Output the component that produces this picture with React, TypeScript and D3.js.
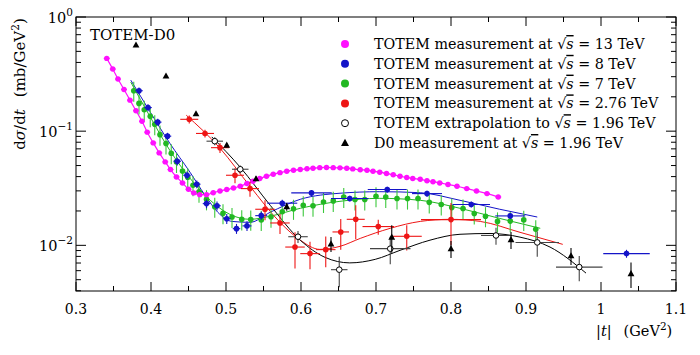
import React from "react";
import * as d3 from "d3";

// ---- data ----
const t13 = [0.341,0.349,0.356,0.364,0.372,0.380,0.388,0.395,0.403,0.411,0.419,0.426,0.434,0.442,0.450,0.457,0.465,0.474,0.483,0.492,0.501,0.510,0.519,0.528,0.536,0.545,0.554,0.563,0.572,0.581,0.590,0.599,0.608,0.616,0.625,0.634,0.643,0.652,0.661,0.669,0.679,0.688,0.696,0.705,0.714,0.723,0.732,0.741,0.749,0.759,0.768,0.776,0.785,0.796,0.808,0.821,0.834,0.848,0.863];
const v13 = [0.434,0.350,0.286,0.232,0.187,0.151,0.122,0.098,0.0789,0.0645,0.0538,0.0461,0.0397,0.0352,0.0310,0.0288,0.0278,0.0278,0.0289,0.0299,0.0308,0.0318,0.0329,0.0348,0.0364,0.0385,0.0403,0.0420,0.0433,0.0446,0.0455,0.0461,0.0469,0.0474,0.0479,0.0481,0.0479,0.0477,0.0474,0.0467,0.0459,0.0455,0.0446,0.0437,0.0426,0.0415,0.0403,0.0393,0.0385,0.0379,0.0368,0.0361,0.0352,0.0341,0.0329,0.0314,0.0299,0.0284,0.0265];

const t8 = [0.384,0.396,0.409,0.422,0.435,0.448,0.461,0.474,0.488,0.501,0.514,0.528,0.547,0.575,0.614,0.665,0.715,0.768,0.827,0.879,1.034];
const v8 = [0.226,0.161,0.120,0.0904,0.0545,0.0411,0.0343,0.0232,0.0222,0.0171,0.0140,0.0148,0.0182,0.0234,0.0288,0.0257,0.0308,0.0284,0.0228,0.0181,0.00846];
const dt8 = [0.005,0.005,0.005,0.005,0.005,0.005,0.005,0.005,0.005,0.005,0.005,0.006,0.008,0.02,0.027,0.025,0.026,0.02,0.025,0.02,0.031];
const er8 = [0.07,0.07,0.07,0.07,0.08,0.08,0.08,0.09,0.09,0.1,0.1,0.1,0.08,0.07,0.06,0.06,0.06,0.06,0.06,0.06,0.08];
const fit8T = [0.373,0.399,0.425,0.452,0.472,0.489,0.508,0.532,0.559,0.599,0.652,0.705,0.759,0.812,0.865,0.915];
const fit8V = [0.280,0.147,0.0785,0.0437,0.0275,0.0195,0.0162,0.0159,0.0195,0.0253,0.0286,0.0295,0.0289,0.0248,0.0207,0.0177];

const t7 = [0.377,0.384,0.391,0.399,0.405,0.412,0.420,0.427,0.434,0.442,0.449,0.456,0.464,0.474,0.485,0.496,0.508,0.521,0.533,0.547,0.560,0.575,0.590,0.603,0.616,0.630,0.643,0.657,0.672,0.685,0.700,0.713,0.728,0.742,0.756,0.771,0.787,0.801,0.816,0.831,0.846,0.862,0.879,0.897,0.913];
const v7 = [0.226,0.175,0.154,0.135,0.115,0.0932,0.0780,0.0641,0.0538,0.0448,0.0395,0.0336,0.0295,0.0253,0.0218,0.0191,0.0177,0.0169,0.0168,0.0167,0.0178,0.0197,0.0209,0.0224,0.0222,0.0240,0.0245,0.0265,0.0252,0.0252,0.0269,0.0265,0.0257,0.0257,0.0257,0.0238,0.0228,0.0214,0.0210,0.0190,0.0180,0.0162,0.0163,0.0167,0.0138];
const fit7T = [0.373,0.399,0.425,0.452,0.479,0.505,0.532,0.559,0.599,0.652,0.705,0.759,0.812,0.865,0.919];
const fit7V = [0.269,0.133,0.0681,0.0387,0.0248,0.0187,0.0169,0.0180,0.0211,0.0243,0.0258,0.0248,0.0211,0.0172,0.0141];

const t276 = [0.451,0.472,0.492,0.512,0.532,0.552,0.572,0.592,0.612,0.633,0.653,0.673,0.703,0.741,0.800];
const v276 = [0.127,0.0955,0.0717,0.0411,0.0314,0.0207,0.0157,0.00966,0.00846,0.00917,0.0131,0.0169,0.0146,0.0120,0.0168];
const dt276 = [0.012,0.012,0.012,0.012,0.012,0.013,0.013,0.013,0.013,0.013,0.011,0.012,0.021,0.02,0.04];
const er276 = [0.08,0.08,0.1,0.15,0.15,0.2,0.2,0.35,0.27,0.3,0.3,0.33,0.15,0.25,0.4];
const fit276T = [0.447,0.492,0.532,0.572,0.599,0.625,0.652,0.679,0.719,0.759,0.799,0.839,0.892,0.949];
const fit276V = [0.138,0.0709,0.0329,0.0159,0.0111,0.00922,0.00980,0.0115,0.0141,0.0162,0.0169,0.0162,0.0130,0.0102];

const t196 = [0.485,0.519,0.596,0.651,0.719,0.860,0.915,0.971];
const v196 = [0.0817,0.0464,0.0119,0.00612,0.00935,0.0122,0.0106,0.00645];
const dt196 = [0.011,0.011,0.013,0.011,0.027,0.02,0.029,0.031];
const er196 = [0.08,0.08,0.12,0.3,0.27,0.17,0.25,0.25];
const fit196T = [0.481,0.519,0.559,0.599,0.632,0.665,0.699,0.732,0.772,0.812,0.852,0.892,0.932,0.980];
const fit196V = [0.0891,0.0483,0.0224,0.0111,0.00785,0.00702,0.00754,0.00904,0.0111,0.0125,0.0127,0.0118,0.00966,0.00571];

const tD0 = [0.380,0.420,0.460,0.501,0.540,0.581,0.640,0.721,0.800,0.880,0.960,1.040];
const vD0 = [0.568,0.304,0.142,0.0754,0.0383,0.0218,0.0103,0.0118,0.00932,0.0112,0.00809,0.00565];
const erD0 = [0.02,0.02,0.03,0.04,0.05,0.08,0.15,0.27,0.17,0.17,0.17,0.25];

const xTicks = [0.3,0.4,0.5,0.6,0.7,0.8,0.9,1.0,1.1];
const xTickLabels = ["0.3","0.4","0.5","0.6","0.7","0.8","0.9","1","1.1"];
const yTicks = [1, 0.1, 0.01];
const yTickExp = ["0", "\u22121", "\u22122"];

const legendItems = [
  { label: "TOTEM measurement at ", energy: " = 13 TeV", color: "#ff10ff", kind: "dot" },
  { label: "TOTEM measurement at ", energy: " = 8 TeV", color: "#1414c8", kind: "dot" },
  { label: "TOTEM measurement at ", energy: " = 7 TeV", color: "#22b822", kind: "dot" },
  { label: "TOTEM measurement at ", energy: " = 2.76 TeV", color: "#ee1515", kind: "dot" },
  { label: "TOTEM extrapolation to ", energy: " = 1.96 TeV", color: "#000", kind: "open" },
  { label: "D0 measurement at ", energy: " = 1.96 TeV", color: "#000", kind: "tri" },
];

const X0 = 76, X1 = 676, Y0 = 17, Y1 = 291;
const FONT = "DejaVu Serif";
const TS: React.CSSProperties = { fontFamily: FONT };

export default function App() {
  const x = d3.scaleLinear().domain([0.3, 1.1]).range([X0, X1]);
  const y = d3.scaleLog().domain([Math.pow(10, -2.4), 1]).range([Y1, Y0]);
  const line = d3.line<[number, number]>().x(d => x(d[0])).y(d => y(d[1])).curve(d3.curveMonotoneX);
  const zip = (a: number[], b: number[]) => a.map((v, i) => [v, b[i]] as [number, number]);

  const minorX: number[] = d3.range(0.35, 1.1, 0.1);
  const minorY: number[] = [];
  [0.001, 0.01, 0.1].forEach(dec => { for (let k = 2; k <= 9; k++) { const v = dec * k; if (v >= Math.pow(10, -2.4) && v < 1) minorY.push(v); } });

  const errBars = (ts: number[], vs: number[], dts: number[] | number, ers: number[] | number, color: string, sw = 1) =>
    ts.map((t, i) => {
      const dt = typeof dts === "number" ? dts : dts[i];
      const er = typeof ers === "number" ? ers : ers[i];
      const v = vs[i];
      return (
        <g key={i} stroke={color} strokeWidth={sw}>
          {dt > 0 && <line x1={x(t - dt)} x2={x(t + dt)} y1={y(v)} y2={y(v)} />}
          {er > 0 && <line x1={x(t)} x2={x(t)} y1={y(v * (1 + er))} y2={y(v * (1 - er))} />}
        </g>
      );
    });
  const dots = (ts: number[], vs: number[], color: string, r = 2.8) =>
    ts.map((t, i) => <circle key={i} cx={x(t)} cy={y(vs[i])} r={r} fill={color} />);
  const tri = (cx: number, cy: number, s = 3.6) => `M${cx},${cy - s}L${cx + s * 0.95},${cy + s * 0.7}L${cx - s * 0.95},${cy + s * 0.7}Z`;

  const sqrtS = (
    <>
      <tspan>{"\u221A"}</tspan>
      <tspan fontStyle="italic" textDecoration="overline">s</tspan>
    </>
  );

  const [c13, c8, c7, c276] = legendItems.map(l => l.color);

  return (
    <svg width={700} height={355} style={{ display: "block", position: "absolute", left: 0, top: 0, background: "#fff", fontFamily: FONT }}>
      <rect width={700} height={355} fill="#fff" />
      {/* frame */}
      <rect x={X0} y={Y0} width={X1 - X0} height={Y1 - Y0} fill="none" stroke="#000" strokeWidth={1} />
      {/* x ticks */}
      {xTicks.map((t, i) => (
        <g key={"xt" + i} stroke="#000">
          <line x1={x(t)} x2={x(t)} y1={Y1} y2={Y1 - 9} />
          <line x1={x(t)} x2={x(t)} y1={Y0} y2={Y0 + 9} />
        </g>
      ))}
      {minorX.map((t, i) => (
        <g key={"xm" + i} stroke="#000">
          <line x1={x(t)} x2={x(t)} y1={Y1} y2={Y1 - 5} />
          <line x1={x(t)} x2={x(t)} y1={Y0} y2={Y0 + 5} />
        </g>
      ))}
      {xTicks.map((t, i) => (
        <text key={"xl" + i} x={x(t)} y={314} fontSize={14} textAnchor="middle" style={TS}>{xTickLabels[i]}</text>
      ))}
      {/* y ticks */}
      {yTicks.map((v, i) => (
        <g key={"yt" + i} stroke="#000">
          <line x1={X0} x2={X0 + 10} y1={y(v)} y2={y(v)} />
          <line x1={X1} x2={X1 - 10} y1={y(v)} y2={y(v)} />
        </g>
      ))}
      {minorY.map((v, i) => (
        <g key={"ym" + i} stroke="#000">
          <line x1={X0} x2={X0 + 5} y1={y(v)} y2={y(v)} />
          <line x1={X1} x2={X1 - 5} y1={y(v)} y2={y(v)} />
        </g>
      ))}
      {yTicks.map((v, i) => (
        <text key={"yl" + i} x={73} y={y(v) + 6} fontSize={14.5} textAnchor="end" style={TS}>
          10<tspan dy={-7} fontSize={10.5}>{yTickExp[i]}</tspan>
        </text>
      ))}
      {/* axis titles */}
      <text transform="translate(25,84) rotate(-90)" fontSize={15} textAnchor="middle" style={TS}>
        d<tspan fontStyle="italic">σ</tspan>/d<tspan fontStyle="italic">t</tspan>
        <tspan dx={12}>(mb/GeV</tspan><tspan dy={-6} fontSize={10.5}>2</tspan><tspan dy={6}>)</tspan>
      </text>
      <text x={596} y={336} fontSize={14.5} style={TS}>|<tspan fontStyle="italic">t</tspan>|
        <tspan dx={12}>(GeV</tspan><tspan dy={-6} fontSize={10.5}>2</tspan><tspan dy={6}>)</tspan>
      </text>
      <text x={90} y={40} fontSize={15} style={TS}>TOTEM-D0</text>

      <g clipPath="url(#clip)">
        <defs>
          <clipPath id="clip"><rect x={X0} y={Y0} width={X1 - X0} height={Y1 - Y0} /></clipPath>
        </defs>
        {/* fit lines */}
        <path d={line(zip(t13, v13)) || ""} fill="none" stroke={c13} strokeWidth={1.2} />
        <path d={line(zip(fit8T, fit8V)) || ""} fill="none" stroke={c8} strokeWidth={1} />
        <path d={line(zip(fit7T, fit7V)) || ""} fill="none" stroke={c7} strokeWidth={1} />
        <path d={line(zip(fit276T, fit276V)) || ""} fill="none" stroke={c276} strokeWidth={1} />
        <path d={line(zip(fit196T, fit196V)) || ""} fill="none" stroke="#000" strokeWidth={1} />

        {/* 7 TeV */}
        {errBars(t7, v7, 0.003, 0.2, "#3cc83c", 1.1)}
        {dots(t7, v7, c7)}
        {/* 8 TeV */}
        {errBars(t8, v8, dt8, er8, c8, 1.1)}
        {dots(t8, v8, c8)}
        {/* 13 TeV */}
        {errBars(t13, v13, 0.004, 0.04, c13, 1.1)}
        {dots(t13, v13, c13, 2.7)}
        {/* 2.76 TeV */}
        {errBars(t276, v276, dt276, er276, c276, 1.1)}
        {dots(t276, v276, c276)}
        {/* 1.96 extrapolation */}
        {errBars(t196, v196, dt196, er196, "#444", 1.1)}
        {t196.map((t, i) => <circle key={"o" + i} cx={x(t)} cy={y(v196[i])} r={2.8} fill="#fff" stroke="#000" strokeWidth={1} />)}
        {/* D0 */}
        {errBars(tD0, vD0, 0, erD0, "#000", 1.1)}
        {tD0.map((t, i) => <path key={"d" + i} d={tri(x(t), y(vD0[i]))} fill="#000" />)}
      </g>

      {/* legend */}
      {legendItems.map((l, i) => {
        const ly = 44 + i * 19.8;
        return (
          <g key={"lg" + i}>
            {l.kind === "dot" && <circle cx={345} cy={ly} r={4} fill={l.color} />}
            {l.kind === "open" && <circle cx={345} cy={ly} r={3.5} fill="#fff" stroke="#000" strokeWidth={1} />}
            {l.kind === "tri" && <path d={tri(345, ly, 4.2)} fill="#000" />}
            <text x={374} y={ly + 5} fontSize={14.3} style={TS}>
              {l.label}{sqrtS}{l.energy}
            </text>
          </g>
        );
      })}
    </svg>
  );
}
